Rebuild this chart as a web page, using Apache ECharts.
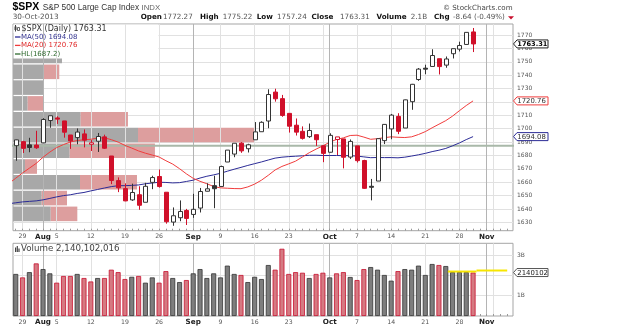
<!DOCTYPE html>
<html><head><meta charset="utf-8">
<script src="https://cdn.jsdelivr.net/npm/echarts@6.0.0/dist/echarts.min.js"></script>
<style>html,body{margin:0;padding:0;background:#fff;}#chart{width:640px;height:329px;}</style>
</head><body><div id="chart"></div>
<script>
// ---------------- DATA ----------------
const dates = ['2013-07-26','2013-07-29','2013-07-30','2013-07-31','2013-08-01','2013-08-02','2013-08-05','2013-08-06','2013-08-07','2013-08-08','2013-08-09','2013-08-12','2013-08-13','2013-08-14','2013-08-15','2013-08-16','2013-08-19','2013-08-20','2013-08-21','2013-08-22','2013-08-23','2013-08-26','2013-08-27','2013-08-28','2013-08-29','2013-08-30','2013-09-03','2013-09-04','2013-09-05','2013-09-06','2013-09-09','2013-09-10','2013-09-11','2013-09-12','2013-09-13','2013-09-16','2013-09-17','2013-09-18','2013-09-19','2013-09-20','2013-09-23','2013-09-24','2013-09-25','2013-09-26','2013-09-27','2013-09-30','2013-10-01','2013-10-02','2013-10-03','2013-10-04','2013-10-07','2013-10-08','2013-10-09','2013-10-10','2013-10-11','2013-10-14','2013-10-15','2013-10-16','2013-10-17','2013-10-18','2013-10-21','2013-10-22','2013-10-23','2013-10-24','2013-10-25','2013-10-28','2013-10-29','2013-10-30'];
const opens = [1687.31,1690.32,1687.92,1687.76,1689.42,1706.10,1708.01,1705.79,1695.30,1693.35,1696.10,1688.37,1690.65,1693.88,1679.61,1661.22,1655.25,1646.81,1650.66,1645.03,1659.92,1664.29,1652.54,1630.25,1633.50,1638.89,1635.95,1640.72,1653.28,1657.44,1656.85,1675.11,1681.04,1689.21,1685.04,1691.70,1697.73,1705.74,1727.34,1722.44,1711.44,1702.60,1698.02,1694.05,1695.52,1687.26,1682.41,1691.90,1692.35,1678.79,1687.15,1676.22,1656.99,1660.88,1691.09,1699.86,1709.17,1700.49,1720.17,1736.72,1745.20,1746.48,1752.27,1747.48,1756.01,1759.42,1762.93,1772.27];
const highs = [1691.85,1690.92,1693.19,1698.43,1707.85,1709.67,1709.24,1705.79,1695.30,1700.18,1699.42,1691.49,1696.81,1695.52,1679.61,1663.60,1659.18,1658.92,1656.99,1659.55,1664.85,1669.51,1652.54,1641.18,1646.41,1640.08,1651.35,1655.72,1659.17,1664.83,1672.40,1684.09,1689.13,1689.97,1688.73,1704.95,1705.52,1729.44,1729.86,1725.23,1711.44,1707.63,1701.71,1703.85,1695.52,1687.26,1696.55,1693.87,1692.35,1691.94,1687.15,1676.79,1662.47,1692.56,1703.44,1711.03,1711.57,1721.76,1733.45,1745.31,1747.79,1759.33,1752.27,1753.94,1759.82,1764.99,1772.09,1775.22];
const lows = [1676.03,1681.86,1682.42,1684.94,1689.42,1700.68,1703.55,1693.29,1684.91,1688.38,1686.02,1683.35,1682.62,1684.83,1658.59,1652.61,1645.84,1646.08,1639.43,1645.03,1654.81,1656.02,1629.05,1627.47,1630.88,1628.05,1633.41,1637.41,1653.07,1640.62,1656.85,1675.11,1678.70,1681.96,1682.22,1691.70,1697.73,1700.35,1720.20,1708.89,1697.10,1694.90,1691.88,1693.11,1687.11,1674.99,1682.07,1680.34,1670.36,1677.33,1674.70,1655.03,1646.47,1660.88,1688.52,1692.13,1695.93,1700.49,1714.12,1735.74,1740.67,1746.48,1740.50,1745.50,1752.45,1757.67,1762.93,1757.24];
const closes = [1691.65,1685.33,1685.96,1685.73,1706.87,1709.67,1707.14,1697.37,1690.91,1697.48,1691.42,1689.47,1694.16,1685.39,1661.32,1655.83,1646.06,1652.35,1642.80,1656.96,1663.50,1656.78,1630.48,1634.96,1638.17,1632.97,1639.77,1653.08,1655.08,1655.17,1671.71,1683.99,1689.13,1683.42,1687.99,1697.60,1704.76,1725.52,1722.34,1709.91,1701.84,1697.42,1692.77,1698.67,1691.75,1681.55,1695.00,1693.87,1678.66,1690.50,1676.12,1655.45,1656.40,1692.56,1703.20,1710.14,1698.06,1721.54,1733.15,1744.50,1744.66,1754.67,1746.38,1752.07,1759.77,1762.11,1771.95,1763.31];
// closes before the visible window (May 15 .. Jul 25), used for the moving averages
const priorCloses = [1658.78,1650.47,1667.47,1666.29,1669.16,1655.35,1650.51,1649.60,1660.06,1648.36,1654.41,1630.74,1640.42,1631.38,1608.90,1622.56,1643.38,1642.81,1626.13,1612.52,1636.36,1626.73,1639.04,1651.81,1628.93,1588.19,1592.43,1573.09,1588.03,1603.26,1613.20,1606.28,1614.96,1614.08,1615.41,1631.89,1640.46,1652.32,1652.62,1675.02,1680.19,1682.50,1676.26,1680.91,1689.37,1692.09,1695.53,1692.39,1685.94,1690.25];
// daily volume, billions of shares
const volumes = [2.07,1.90,2.16,2.59,2.31,2.10,1.64,1.97,1.97,2.07,1.87,1.70,1.87,1.87,2.28,2.16,1.82,1.93,1.97,1.64,1.90,1.64,2.21,1.87,1.67,1.77,2.10,2.31,1.87,2.10,1.90,2.48,2.07,2.02,1.67,1.93,1.82,2.51,2.28,3.31,2.07,2.16,2.13,1.87,2.07,2.13,1.90,2.10,2.16,1.92,1.77,2.31,2.41,2.28,2.02,1.74,2.21,2.31,2.28,2.48,2.02,2.56,2.51,2.46,2.16,2.16,2.16,2.14];
const lastVolume = 2140102016;
// volume by price: 12 zones (bottom to top), up / down volume in billions
const vbpUp   = [5.19,3.95,9.22,1.65,7.80,17.2,9.31,2.02,4.26,4.17,6.74,4.30];
const vbpDown = [3.66,3.48,7.84,1.65,11.73,15.96,6.51,2.20,0,2.20,0,2.10];
const hlLevel = 1687.2;
// yellow volume level marks (x = trading-day slot, y = billions)
const volLevelA = [[63.3,2.19],[67.5,2.19]];
const volLevelB = [[67.5,2.24],[72.0,2.24]];
// axis ticks
const priceTicks = [1630,1640,1650,1660,1670,1680,1690,1700,1710,1720,1730,1740,1750,1760,1770];
const volTicks = [1,2,3];
const xLabelIdx  = [1,4,6,11,16,21,26,30,35,40,46,50,55,60,65,69];
const xLabelText = ['29','Aug','5','12','19','26','Sep','9','16','23','Oct','7','14','21','28','Nov'];
const mondayIdx = [1,6,11,16,21,30,35,40,45,50,55,60,65,70];
const monthIdx = [4,26,46,69];
const daySlots = 73;

// ---------------- SETUP ----------------
const F = 'DejaVu Sans', FA = 'Liberation Sans';
const X_MIN = -0.4, X_MAX = 72.85;
const Y_MIN = 1623.8, Y_MAX = 1778.2;
const VOL_MAX = 3.58, VBP_MAX = 68.8;
const dayIdx = Array.from({length: daySlots}, (_, i) => i);
const n = closes.length;
const prevClose = i => i === 0 ? priorCloses[priorCloses.length - 1] : closes[i - 1];

const allCloses = priorCloses.concat(closes);
function movingAverage(len) {
  const out = [];
  for (let i = -1; i < n; i++) {
    const end = priorCloses.length + i;
    let s = 0;
    for (let k = end - len + 1; k <= end; k++) s += allCloses[k];
    out.push([i, s / len]);
  }
  return out;
}
const ma50 = movingAverage(50), ma20 = movingAverage(20);

const candleData = closes.map((c, i) => [i, opens[i], c, lows[i], highs[i], c >= prevClose(i) ? 1 : 0]);
const minC = Math.min(...closes), maxC = Math.max(...closes);
const zoneSize = (maxC - minC) / vbpUp.length;
const vbpData = vbpUp.map((u, k) => [k, u, vbpDown[k]]);

const volData = volumes.map((v, i) => {
  const up = closes[i] >= prevClose(i);
  return {value: [i, v], itemStyle: up
    ? {color: '#7e7e7e', borderColor: '#333', borderWidth: 0.8}
    : {color: '#d57a82', borderColor: '#c8102e', borderWidth: 0.8}};
});

function fmtX(v) {
  const i = xLabelIdx.indexOf(Math.round(v));
  if (i < 0) return '';
  const t = xLabelText[i];
  return /[A-Za-z]/.test(t) ? '{m|' + t + '}' : '{d|' + t + '}';
}
const richX = {
  m: {fontFamily: F, fontWeight: 'bold', fontSize: 7.2, color: '#222'},
  d: {fontFamily: F, fontSize: 6.2, color: '#555'}
};
function xAxes(gridIndex, margin) {
  const common = {gridIndex, type: 'value', min: X_MIN, max: X_MAX, position: 'bottom', axisLine: {show: false}, z: 3};
  return [
    Object.assign({}, common, {axisTick: {show: false, customValues: mondayIdx},
      splitLine: {show: true, lineStyle: {color: '#e1e1e1', width: 1}},
      axisLabel: {show: true, customValues: xLabelIdx, margin, formatter: fmtX, rich: richX}}),
    Object.assign({}, common, {axisTick: {show: false, customValues: monthIdx},
      splitLine: {show: true, lineStyle: {color: '#b4b4b4', width: 1}}, axisLabel: {show: false}}),
    Object.assign({}, common, {axisTick: {show: true, inside: true, length: 2, customValues: dayIdx, lineStyle: {color: '#999', width: 1}},
      splitLine: {show: false}, axisLabel: {show: false}})
  ];
}
const xA = xAxes(0, 3);
xA.push({gridIndex: 0, type: 'value', min: 0, max: VBP_MAX, show: false, position: 'top'});
const xB = xAxes(1, 3);

const option = {
  animation: false,
  backgroundColor: '#fff',
  grid: [
    {left: 13, top: 24, width: 500, height: 206.7, show: true, borderColor: '#a5a5a5', borderWidth: 1, backgroundColor: 'rgba(0,0,0,0)', outerBoundsMode: 'none', containLabel: false},
    {left: 13, top: 243.3, width: 500, height: 72.7, show: true, borderColor: '#a5a5a5', borderWidth: 1, backgroundColor: 'rgba(0,0,0,0)', outerBoundsMode: 'none', containLabel: false}
  ],
  xAxis: xA.concat(xB),
  yAxis: [
    {gridIndex: 0, type: 'value', position: 'right', min: Y_MIN, max: Y_MAX, axisLine: {show: false},
      axisTick: {show: false, customValues: priceTicks},
      axisLabel: {customValues: priceTicks, fontFamily: F, fontSize: 6, color: '#555', margin: 4, formatter: v => String(v)},
      splitLine: {show: true, lineStyle: {color: '#e1e1e1', width: 1}}},
    {gridIndex: 1, type: 'value', position: 'right', min: 0, max: VOL_MAX, axisLine: {show: false},
      axisTick: {show: false, customValues: volTicks},
      axisLabel: {customValues: volTicks, fontFamily: F, fontSize: 6, color: '#555', margin: 4, formatter: v => v + 'B'},
      splitLine: {show: true, lineStyle: {color: '#e1e1e1', width: 1}}}
  ],
  series: [
    {type: 'custom', name: 'VBP', xAxisIndex: 3, yAxisIndex: 0, z: 1, silent: true, data: vbpData,
      renderItem: function (params, api) {
        const k = api.value(0), up = api.value(1), dn = api.value(2);
        const lo = minC + k * zoneSize, hi = lo + zoneSize;
        const p0 = api.coord([0, hi]), p1 = api.coord([up, lo]), p2 = api.coord([up + dn, lo]);
        const y0 = p0[1] + 0.6, y1 = p1[1] - 0.6;
        return {type: 'group', children: [
          {type: 'rect', shape: {x: p0[0], y: y0, width: p1[0] - p0[0], height: y1 - y0}, style: {fill: '#a8a8a8'}},
          {type: 'rect', shape: {x: p1[0], y: y0, width: p2[0] - p1[0], height: y1 - y0}, style: {fill: '#dd9e9e'}}
        ]};
      }},
    {type: 'line', name: 'HL', xAxisIndex: 0, yAxisIndex: 0, z: 4, silent: true, symbol: 'none', clip: true,
      data: [[X_MIN - 1, hlLevel], [X_MAX + 1, hlLevel]], lineStyle: {color: '#a9b8a9', width: 2}},
    {type: 'line', name: 'MA(50)', xAxisIndex: 0, yAxisIndex: 0, z: 5, silent: true, symbol: 'none', clip: true,
      data: ma50, lineStyle: {color: '#2b2b96', width: 1}},
    {type: 'line', name: 'MA(20)', xAxisIndex: 0, yAxisIndex: 0, z: 5, silent: true, symbol: 'none', clip: true,
      data: ma20, lineStyle: {color: '#f03c3c', width: 1}},
    {type: 'custom', name: '$SPX', xAxisIndex: 0, yAxisIndex: 0, z: 6, silent: true, data: candleData,
      encode: {x: 0, y: [1, 2, 3, 4]},
      renderItem: function (params, api) {
        const x = api.value(0), o = api.value(1), c = api.value(2), l = api.value(3), h = api.value(4), upPrev = api.value(5);
        const pO = api.coord([x, o]), pC = api.coord([x, c]), pL = api.coord([x, l]), pH = api.coord([x, h]);
        const col = upPrev ? '#333' : '#d0102a';
        const hollow = c >= o;
        const cx = Math.round(pO[0]) + 0.5;
        const top = Math.min(pO[1], pC[1]), bot = Math.max(pO[1], pC[1], top + 1);
        return {type: 'group', children: [
          {type: 'line', shape: {x1: cx, y1: pH[1], x2: cx, y2: top}, style: {stroke: col, lineWidth: 1}},
          {type: 'line', shape: {x1: cx, y1: bot, x2: cx, y2: pL[1]}, style: {stroke: col, lineWidth: 1}},
          {type: 'rect', shape: {x: cx - 2, y: top, width: 4, height: bot - top},
            style: {fill: hollow ? '#fff' : col, stroke: col, lineWidth: 1}}
        ]};
      }},
    {type: 'bar', name: 'Volume', xAxisIndex: 4, yAxisIndex: 1, barWidth: 5, z: 4, silent: true, data: volData},
    {type: 'line', xAxisIndex: 4, yAxisIndex: 1, z: 6, silent: true, symbol: 'none', clip: false, data: volLevelA, lineStyle: {color: '#f7e600', width: 2}},
    {type: 'line', xAxisIndex: 4, yAxisIndex: 1, z: 6, silent: true, symbol: 'none', clip: false, data: volLevelB, lineStyle: {color: '#f7e600', width: 2}}
  ]
};

const chart = echarts.init(document.getElementById('chart'), null, {renderer: 'canvas', width: 640, height: 329});
chart.setOption(option);

// ---------------- TEXT / ANNOTATIONS ----------------
const last = n - 1;
const chg = closes[last] - closes[last - 1];
const pct = chg / closes[last - 1] * 100;
const ma50Last = ma50[ma50.length - 1][1], ma20Last = ma20[ma20.length - 1][1];
function T(text, x, y, size, opts) {
  return Object.assign({type: 'text', x, y, z: 20, silent: true,
    style: Object.assign({text, fontFamily: F, fontSize: size, fill: '#333', verticalAlign: 'middle', align: 'left'}, opts || {})});
}
const g = [];
// legend box (hides horizontal grid + volume-by-price under it)
g.push({type: 'rect', z: 2, silent: true, shape: {x: 13.5, y: 24.5, width: 145, height: 34}, style: {fill: '#fff'}});
// header
g.push(T('$SPX', 12.5, 7.6, 10.5, {fontFamily: FA, fontWeight: 'bold', fill: '#000'}));
g.push(T('S&P 500 Large Cap Index', 42.7, 8.2, 8.3, {fontFamily: FA, fill: '#333'}));
g.push(T('INDX', 141.5, 8.2, 7.8, {fontFamily: FA, fill: '#666'}));
g.push(T('30-Oct-2013', 12.7, 17.6, 7.3, {fill: '#555'}));
g.push(T('\u00A9 StockCharts.com', 443, 8.2, 7.1, {fill: '#444'}));
const hdr = [
  ['Open', 140.7, true], [opens[last].toFixed(2), 163, false],
  ['High', 200, true], [highs[last].toFixed(2), 222.7, false],
  ['Low', 256.7, true], [lows[last].toFixed(2), 277, false],
  ['Close', 311.5, true], [closes[last].toFixed(2), 340, false],
  ['Volume', 376.5, true], [(lastVolume / 1e9).toFixed(1) + 'B', 410.7, false],
  ['Chg', 434, true], [chg.toFixed(2) + ' (' + pct.toFixed(2) + '%)', 453, false]
];
hdr.forEach(([t, x, b]) => g.push(T(t, x, 17.6, 7.2, b ? {fontWeight: 'bold', fill: '#111'} : {fill: '#555'})));
g.push({type: 'polygon', z: 20, silent: true, shape: {points: [[508, 16.2], [514, 16.2], [511, 19.6]]}, style: {fill: '#c8102e'}});
// price legend
g.push({type: 'rect', z: 20, silent: true, shape: {x: 14.5, y: 26.5, width: 2, height: 3.5}, style: {fill: '#444'}});
g.push({type: 'line', z: 20, silent: true, shape: {x1: 15.5, y1: 25, x2: 15.5, y2: 31.5}, style: {stroke: '#444', lineWidth: 1}});
g.push({type: 'rect', z: 20, silent: true, shape: {x: 17.5, y: 27.5, width: 2, height: 3}, style: {fill: '#fff', stroke: '#444', lineWidth: 0.8}});
g.push(T('$SPX (Daily) ' + closes[last].toFixed(2), 21.5, 28.6, 8, {fill: '#333'}));
const legendRows = [
  ['MA(50) ' + ma50Last.toFixed(2), 37, '#2b2b96', '#33338f'],
  ['MA(20) ' + ma20Last.toFixed(2), 45.4, '#f03c3c', '#e02828'],
  ['HL(' + hlLevel.toFixed(1) + ')', 54, '#2f6b2f', '#2f6b2f']
];
legendRows.forEach(([t, y, lc, tc]) => {
  g.push({type: 'line', z: 20, silent: true, shape: {x1: 15, y1: y, x2: 20.5, y2: y}, style: {stroke: lc, lineWidth: 1.3}});
  g.push(T(t, 21, y, 7, {fill: tc}));
});
// volume legend
[[15, 247.5, 4.5], [16.7, 246, 6], [18.4, 248.5, 3.5]].forEach(([x, y, h]) =>
  g.push({type: 'rect', z: 20, silent: true, shape: {x, y, width: 1.2, height: h}, style: {fill: '#444'}}));
g.push(T('Volume ' + lastVolume.toLocaleString('en-US'), 21, 248.8, 8.7, {fill: '#444'}));

// value tags on the right axis
function tag(yPix, text, stroke, textColor, bold) {
  const x0 = 513.5, x1 = 548, hh = 4;
  g.push({type: 'polygon', z: 21, silent: true,
    shape: {points: [[x0, yPix], [x0 + 3.5, yPix - hh], [x1, yPix - hh], [x1, yPix + hh], [x0 + 3.5, yPix + hh]]},
    style: {fill: '#fff', stroke, lineWidth: 1}});
  g.push(Object.assign(T(text, x0 + 3.8, yPix + 0.3, bold ? 6.6 : 6.9, {fill: textColor, fontWeight: bold ? 'bold' : 'normal'}), {z: 22}));
}
tag(chart.convertToPixel({yAxisIndex: 0}, closes[last]), closes[last].toFixed(2), '#222', '#000', true);
tag(chart.convertToPixel({yAxisIndex: 0}, ma20Last), ma20Last.toFixed(2), '#f03c3c', '#333', false);
tag(chart.convertToPixel({yAxisIndex: 0}, ma50Last), ma50Last.toFixed(2), '#2b2b96', '#333', false);
tag(chart.convertToPixel({yAxisIndex: 1}, lastVolume / 1e9), String(Math.floor(lastVolume / 1000)), '#555', '#222', false);

chart.setOption({graphic: g});
</script></body></html>
